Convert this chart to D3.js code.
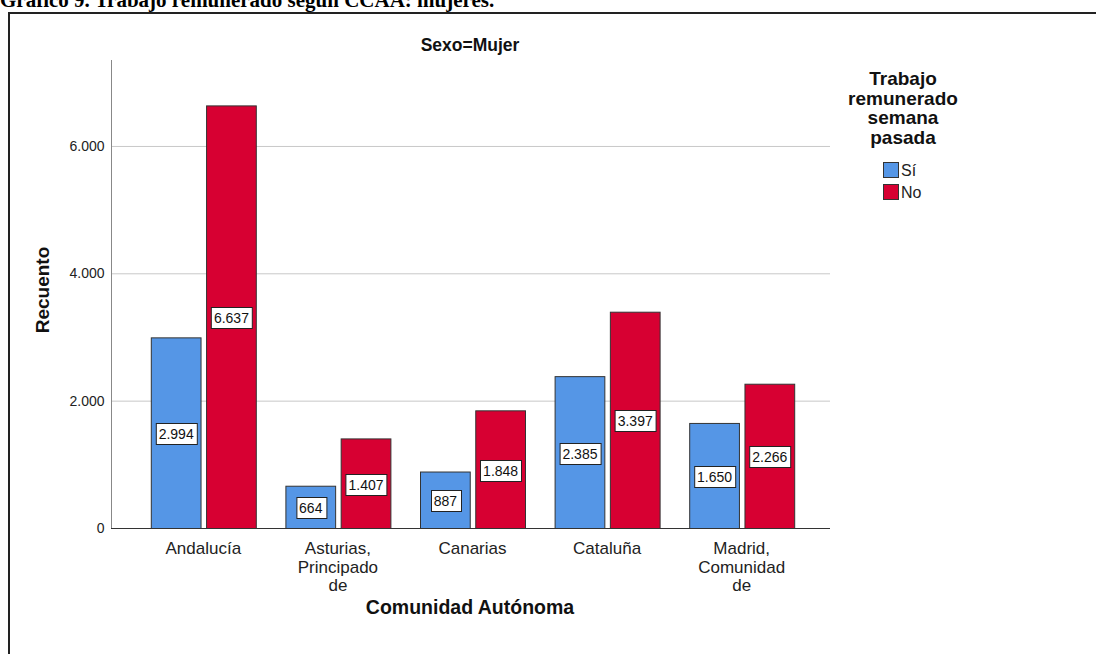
<!DOCTYPE html>
<html><head><meta charset="utf-8">
<script src="https://cdn.jsdelivr.net/npm/d3@7"></script>
<style>body{margin:0;background:#fff}svg{display:block}</style>
</head><body>
<script>
const categories = [["Andalucía"], ["Asturias,", "Principado", "de"], ["Canarias"], ["Cataluña"], ["Madrid,", "Comunidad", "de"]];
const seriesNames = ["Sí", "No"];
const siValues = [2994, 664, 887, 2385, 1650];
const noValues = [6637, 1407, 1848, 3397, 2266];
const yTicks = [0, 2000, 4000, 6000];
const colors = ["#5596e6", "#d70032"];

const W = 1096, H = 654;
const svg = d3.select("body").append("svg").attr("width", W).attr("height", H);

// page title (cropped at top)
svg.append("text").attr("x", 0).attr("y", 7)
  .attr("font-family", "Liberation Serif, Times New Roman, serif").attr("font-weight", "bold")
  .attr("font-size", 21).text("Gráfico 9. Trabajo remunerado según CCAA: mujeres.");

// frame
svg.append("path").attr("d", `M9,${H+5} V13 H${W+5}`).attr("fill", "none")
  .attr("stroke", "#222").attr("stroke-width", 2);

const y = d3.scaleLinear().domain([0, 7350]).range([528, 60]);
const x0 = d3.scaleBand().domain(d3.range(categories.length)).range([136, 809]).paddingInner(0).paddingOuter(0);
const x1 = d3.scaleBand().domain([0, 1]).range([15, 120]).paddingInner(0.1);
const font = "Liberation Sans, Arial, sans-serif";
const fmt = v => d3.format(",")(v).replace(/,/g, ".");

// gridlines
svg.append("g").selectAll("line").data(yTicks.filter(d => d > 0)).join("line")
  .attr("x1", 112).attr("x2", 830).attr("y1", d => y(d) + 0.5).attr("y2", d => y(d) + 0.5)
  .attr("stroke", "#c8c8c8").attr("stroke-width", 1);

// y axis
const yAxis = d3.axisLeft(y).tickValues(yTicks).tickSize(0).tickPadding(7).tickFormat(fmt);
const gy = svg.append("g").attr("transform", "translate(111.5,0)").call(yAxis);
gy.select(".domain").attr("stroke", "#888").attr("d", "M0,60V528");
gy.selectAll("text").attr("font-family", font).attr("font-size", 14).attr("fill", "#222");

// bars
const data = categories.map((c, i) => ({i, vals: [siValues[i], noValues[i]]}));
const groups = svg.append("g").selectAll("g").data(data).join("g")
  .attr("transform", d => `translate(${x0(d.i) + x0.bandwidth()/2 - 67.5},0)`);
groups.selectAll("rect").data(d => d.vals.map((v, k) => ({v, k}))).join("rect")
  .attr("x", d => x1(d.k) + 0.5).attr("width", x1.bandwidth())
  .attr("y", d => y(d.v) + 0.5).attr("height", d => y(0) - y(d.v))
  .attr("fill", d => colors[d.k]).attr("stroke", "#333").attr("stroke-width", 1);

// value labels
groups.each(function(d) {
  const g = d3.select(this);
  d.vals.forEach((v, k) => {
    const cx = x1(k) + x1.bandwidth()/2 + 0.5;
    const cy = (y(v) + y(0)) / 2 + 1.5;
    const t = g.append("text").attr("x", cx).attr("y", cy + 5).attr("text-anchor", "middle")
      .attr("font-family", font).attr("font-size", 14).attr("fill", "#111")
      .text(fmt(v));
    const bb = t.node().getBBox();
    g.insert("rect", "text:last-of-type")
      .attr("x", Math.round(bb.x - 3) + 0.5).attr("y", Math.round(cy - 11) + 0.5)
      .attr("width", Math.round(bb.width + 6)).attr("height", 21)
      .attr("fill", "#fff").attr("stroke", "#222").attr("stroke-width", 1);
    t.raise();
  });
});

// x axis line
svg.append("line").attr("x1", 111).attr("x2", 830).attr("y1", 528.5).attr("y2", 528.5)
  .attr("stroke", "#333").attr("stroke-width", 1);

// x tick labels
const xl = svg.append("g").selectAll("text").data(categories).join("text")
  .attr("x", (d, i) => x0(i) + x0.bandwidth()/2).attr("y", 554)
  .attr("text-anchor", "middle").attr("font-family", font).attr("font-size", 17).attr("fill", "#222");
xl.each(function(d) {
  const t = d3.select(this);
  d.forEach((line, j) => t.append("tspan").attr("x", t.attr("x")).attr("dy", j === 0 ? 0 : 18.5).text(line));
});

// axis titles
svg.append("text").attr("x", 470).attr("y", 614).attr("text-anchor", "middle")
  .attr("font-family", font).attr("font-weight", "bold").attr("font-size", 19.5).attr("fill", "#111")
  .text("Comunidad Autónoma");
svg.append("text").attr("transform", "translate(49,290) rotate(-90)").attr("text-anchor", "middle")
  .attr("font-family", font).attr("font-weight", "bold").attr("font-size", 19).attr("fill", "#111")
  .text("Recuento");
svg.append("text").attr("x", 470).attr("y", 51).attr("text-anchor", "middle")
  .attr("font-family", font).attr("font-weight", "bold").attr("font-size", 17.5).attr("fill", "#111")
  .text("Sexo=Mujer");

// legend
const legTitle = ["Trabajo", "remunerado", "semana", "pasada"];
svg.append("g").selectAll("text").data(legTitle).join("text")
  .attr("x", 903).attr("y", (d, i) => 85 + i * 19.5).attr("text-anchor", "middle")
  .attr("font-family", font).attr("font-weight", "bold").attr("font-size", 19).attr("fill", "#111")
  .text(d => d);
const lg = svg.append("g").selectAll("g").data(seriesNames).join("g")
  .attr("transform", (d, i) => `translate(883,${162 + i * 22})`);
lg.append("rect").attr("x", 0.5).attr("y", 0.5).attr("width", 15).attr("height", 15)
  .attr("fill", (d, i) => colors[i]).attr("stroke", "#333");
lg.append("text").attr("x", 18).attr("y", 14).attr("font-family", font).attr("font-size", 16)
  .attr("fill", "#222").text(d => d);
</script>
</body></html>
